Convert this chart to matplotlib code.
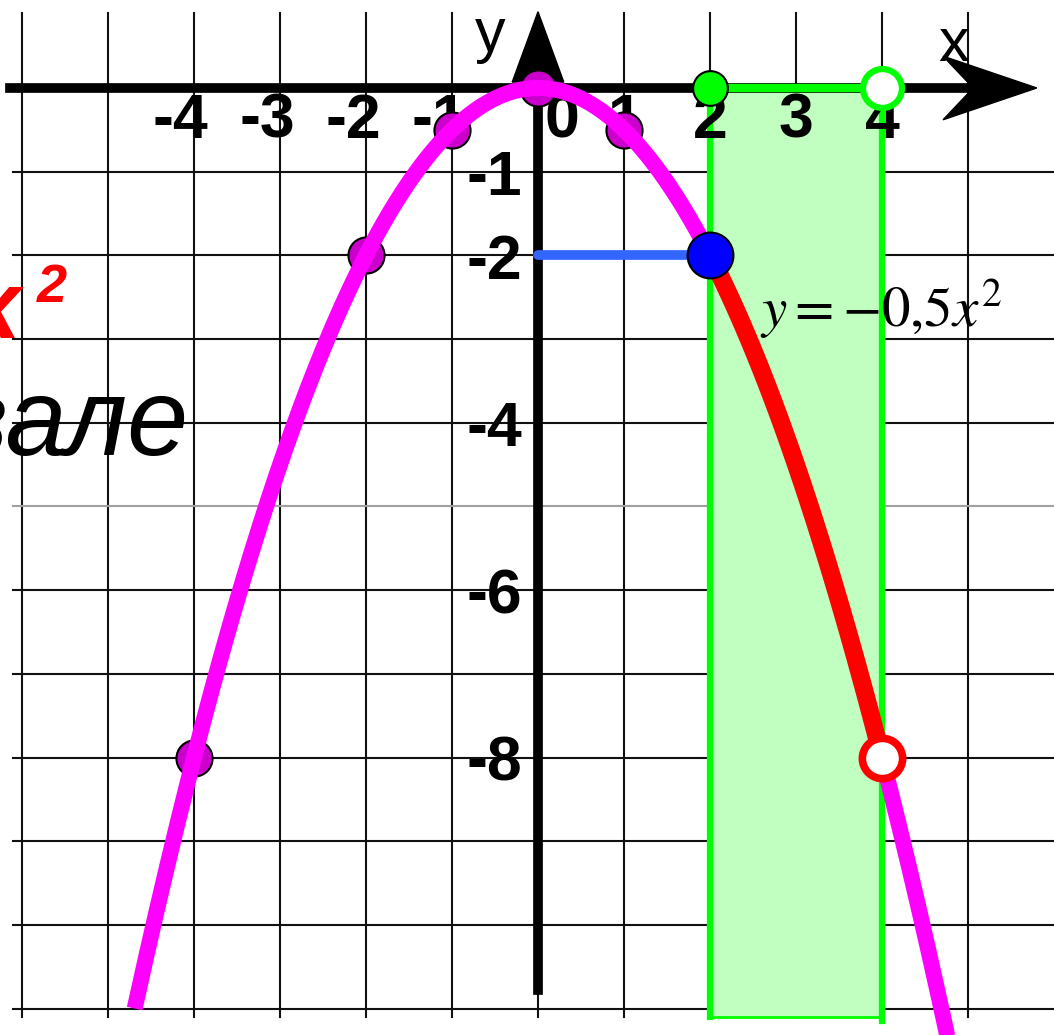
import numpy as np
import matplotlib
matplotlib.use("Agg")
import matplotlib.pyplot as plt
from matplotlib import font_manager
from matplotlib.patches import Polygon, Rectangle

# --- data -------------------------------------------------------------
coef = -0.5                          # y = -0,5 x^2
curve_ends = [-4.67, 4.74]           # where the drawn parabola starts / stops
table_x = [-4, -2, -1, 0, 1]         # marked points of the table of values
interval = [2, 4]                    # the interval [2; 4)
grid_x = list(range(-6, 6))
grid_y = list(range(-11, 0))
xtick_vals = [-4, -3, -2, -1, 0, 1, 2, 3, 4]
ytick_vals = [-1, -2, -4, -6, -8]

# --- fonts ------------------------------------------------------------
names = set(f.name for f in font_manager.fontManager.ttflist)
narrow = "Liberation Sans Narrow" if "Liberation Sans Narrow" in names else "Liberation Sans"
plt.rcParams["mathtext.fontset"] = "stix"

fig = plt.figure(figsize=(10.54, 10.35), dpi=100)
ax = fig.add_axes([0, 0, 1, 1])
ax.set_xlim(-6.256, 6.0)
ax.set_ylim(-11.314, 1.051)
ax.axis("off")

# grid
for gx in grid_x:
    ax.plot([gx, gx], [-11.1, 0.9], color="#111111", lw=1.5, zorder=1)
for gy in grid_y:
    col = "#a0a0a0" if gy == -5 else "#111111"
    ax.plot([-6.1, 6.0], [gy, gy], color=col, lw=1.5, zorder=1)

# shaded strip over the interval
a, b = interval
ax.add_patch(Rectangle((a, -11.1), b - a, 11.1, facecolor="#c0ffc0",
                       edgecolor="none", zorder=2))
ax.plot([a, a], [0, -11.1], color="#00ff00", lw=4.5, zorder=3)
ax.plot([b, b], [0, -11.15], color="#00ff00", lw=4.5, zorder=3)
ax.plot([a, b], [-11.1, -11.1], color="#00ff00", lw=2, zorder=3)

# axes with arrows
ax.plot([-6.14, 5.05], [0, 0], color="black", lw=7, zorder=4)
ax.add_patch(Polygon([[5.8, 0], [4.71, 0.38], [5.06, 0], [4.71, -0.38]],
                     closed=True, color="black", zorder=4))
ax.plot([0, 0], [-10.78, 0.3], color="black", lw=7, zorder=4)
ax.add_patch(Polygon([[-0.3, 0.07], [0.3, 0.07], [0, 0.91]],
                     closed=True, color="black", zorder=4))
ax.plot([a, b], [0, 0], color="#00ff00", lw=6, zorder=5)

# tick labels
lab = dict(fontsize=45, fontweight="bold", family=[narrow, "DejaVu Sans"],
           va="center", zorder=5)
for v in xtick_vals:
    if v < 0:
        ax.text(v + 0.17, -0.4, "%d" % v, ha="right", **lab)
    elif v == 0:
        ax.text(v + 0.28, -0.4, "%d" % v, ha="center", **lab)
    else:
        ax.text(v, -0.4, "%d" % v, ha="center", **lab)
for v in ytick_vals:
    ax.text(-0.18, v - 0.08, "%d" % v, ha="right", **lab)

ax.text(-0.56, 0.63, "y", fontsize=44, family="Liberation Sans",
        ha="center", va="center", zorder=5)
ax.text(4.83, 0.51, "x", fontsize=44, family="Liberation Sans",
        ha="center", va="center", zorder=5)

# level y = f(2)
ax.plot([0, a], [coef * a ** 2] * 2, color="#3366ff", lw=7,
        solid_capstyle="round", zorder=5)

# table points
tx = np.array(table_x)
ax.plot(tx, coef * tx ** 2, "o", ms=26, mfc="#cc00cc", mec="black",
        mew=1.5, zorder=6)

# parabola
xs = np.linspace(curve_ends[0], curve_ends[1], 400)
ax.plot(xs, coef * xs ** 2, color="#ff00ff", lw=11.5, zorder=7)
xr = np.linspace(a, b, 100)
ax.plot(xr, coef * xr ** 2, color="#ff0000", lw=13, zorder=8)

# interval ends
ax.plot(a, 0, "o", ms=25, mfc="#00ff00", mec="black", mew=1.5, zorder=9)
ax.plot(b, 0, "o", ms=28, mfc="white", mec="#00ff00", mew=4.5, zorder=9)
ax.plot(a, coef * a ** 2, "o", ms=33, mfc="#0000ff", mec="black", mew=1.5, zorder=9)
ax.plot(b, coef * b ** 2, "o", ms=29, mfc="white", mec="#ff0000", mew=5.5, zorder=9)

# formula
ax.text(2.58, -2.85, r"$y=-0{,}5x^2$", fontsize=41, ha="left",
        va="baseline", zorder=9)

# pieces of the slide text cut by the left edge
ax.text(-6.02, -2.99, "y = -0,5x", fontsize=70, fontweight="bold",
        style="italic", color="#ff0000", family="Liberation Sans",
        ha="right", va="baseline", zorder=9)
ax.text(-5.83, -2.56, "2", fontsize=39, fontweight="bold", style="italic",
        color="#ff0000", family="Liberation Sans", ha="left",
        va="baseline", zorder=9)
ax.text(-4.07, -4.38, "на интервале", fontsize=79, style="italic",
        color="black", family="Liberation Sans", ha="right",
        va="baseline", zorder=9)

fig.savefig("out.png", dpi=100)
